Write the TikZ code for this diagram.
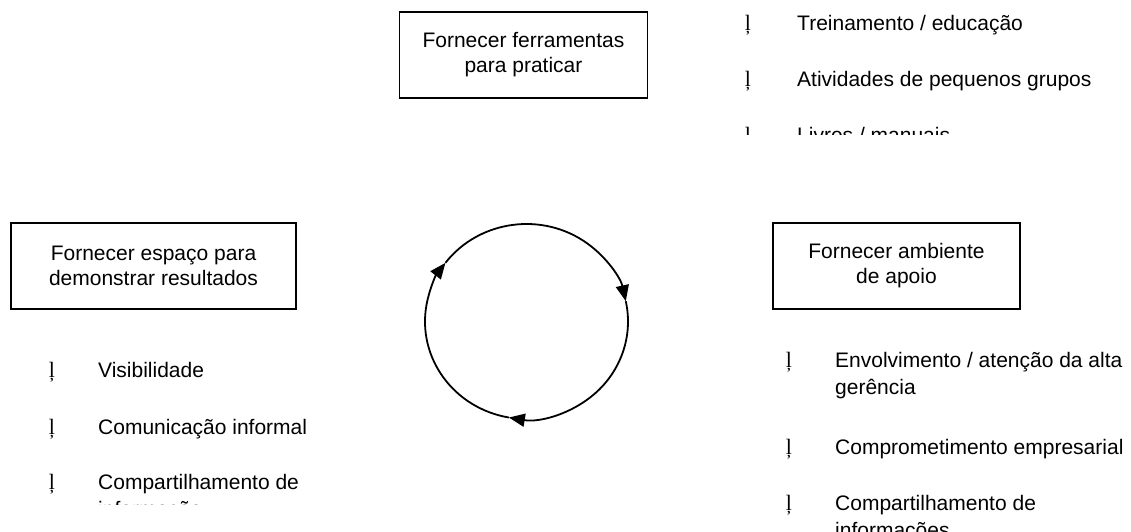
\documentclass[tikz,border=0pt]{standalone}
\usepackage{fontspec}
\setmainfont{Liberation Sans}
\newfontfamily\bulletfont{Liberation Serif}
\usetikzlibrary{arrows.meta}
\tikzset{
  caixa/.style={draw, line width=1.8pt, align=center, minimum width=248pt,
    minimum height=86pt, inner sep=0pt, font=\fontsize{21}{25}\selectfont},
  item/.style={anchor=base west, inner sep=0pt, align=left,
    font=\fontsize{21}{27}\selectfont},
  bola/.style={anchor=base, inner sep=0pt, font=\bulletfont\fontsize{22}{22}\selectfont},
  ciclo/.style={line width=1.8pt, -{Triangle[length=16pt,width=13pt]}}
}
\begin{document}
\begin{tikzpicture}[x=1pt,y=1pt]
\useasboundingbox (0,0) rectangle (1131,531);
% caixas
\node[caixa] (ferr) at (523.5,476) {Fornecer ferramentas\\para praticar};
\node[caixa, minimum width=285pt] (esp) at (153.5,265) {Fornecer espaço para\\demonstrar resultados};
\node[caixa, minimum width=247pt] (amb) at (896.5,265) {Fornecer ambiente\\de apoio};
% lista de cima
\begin{scope}
\clip (720,396) rectangle (1131,531);
\node[bola] (b1) at (748,500.5) {ļ};
\node[item] (it1) at (797,500.5) {Treinamento / educação};
\node[bola] (b2) at (748,444.5) {ļ};
\node[item] (it2) at (797,444.5) {Atividades de pequenos grupos};
\node[bola] (b3) at (748,388.5) {ļ};
\node[item] (it3) at (797,388.5) {Livres / manuais};
\end{scope}
% lista da esquerda (base = ultima linha)
\begin{scope}
\clip (0,26.5) rectangle (380,200);
\node[bola] (b4) at (52,153.5) {ļ};
\node[item] (it4) at (98,153.5) {Visibilidade};
\node[bola] (b5) at (52,96.5) {ļ};
\node[item] (it5) at (98,96.5) {Comunicação informal};
\node[bola] (b6) at (52,41.5) {ļ};
\node[item] (it6) at (98,14.5) {Compartilhamento de\\informação};
\end{scope}
% lista da direita
\node[bola] (b7) at (789,163.5) {ļ};
\node[item] (it7) at (835,136.5) {Envolvimento / atenção da alta\\gerência};
\node[bola] (b8) at (789,76.5) {ļ};
\node[item] (it8) at (835,76.5) {Comprometimento empresarial};
\node[bola] (b9) at (789,20.5) {ļ};
\node[item] (it9) at (835,-6.5) {Compartilhamento de\\informações};
% ciclo
\coordinate (c) at (526.5,209.5);
\draw[ciclo] ([shift={(143:101.5 and 97.5)}]c) arc[start angle=143, end angle=12, x radius=101.5, y radius=97.5];
\draw[ciclo] ([shift={(12:101.5 and 97.5)}]c) arc[start angle=12, end angle=-100, x radius=101.5, y radius=97.5];
\draw[ciclo] ([shift={(260:101.5 and 97.5)}]c) arc[start angle=260, end angle=143, x radius=101.5, y radius=97.5];
\end{tikzpicture}
\end{document}
